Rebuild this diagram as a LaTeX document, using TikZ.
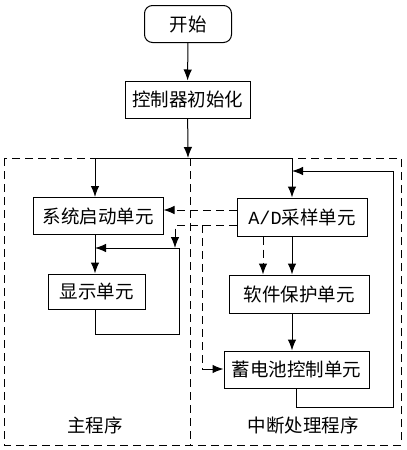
\documentclass[tikz,border=0pt]{standalone}
\usepackage{fontspec}
\setmainfont{Noto Sans CJK SC}
\setmonofont{Liberation Mono}
\usetikzlibrary{arrows.meta}
\begin{document}
\begin{tikzpicture}[x=1pt, y=-1pt, >={Latex[length=11pt,width=8.5pt]}, line width=1pt,
	box/.style={draw, rectangle, inner sep=0pt, font=\fontsize{18.5}{21}\selectfont},
	dash line/.style={dash pattern=on 8pt off 5pt},
	lbl/.style={font=\fontsize{18.5}{21}\selectfont}]
	
	\useasboundingbox (0,0) rectangle (407,450);
	
	% Boxes of the flow
	\node[box, rounded corners=8pt, minimum width=87pt, minimum height=37pt] (start) at (188,24) {开始};
	\node[box, minimum width=125pt, minimum height=37pt] (init) at (187.5,99.5) {控制器初始化};
	\node[box, minimum width=130pt, minimum height=37pt] (sys) at (98,216) {系统启动单元};
	\node[box, minimum width=130pt, minimum height=38pt] (ad) at (302,217) {\texttt{A/D}采样单元};
	\node[box, minimum width=97pt, minimum height=35pt] (disp) at (96.5,291.5) {显示单元};
	\node[box, minimum width=140pt, minimum height=38pt] (swp) at (299,294) {软件保护单元};
	\node[box, minimum width=145pt, minimum height=37pt] (bat) at (296.5,369.5) {蓄电池控制单元};
	
	% Program areas
	\draw[dash line] (4,158) rectangle (401,445);
	\draw[dash line] (190,158) -- (190,445);
	\node[lbl] (mainlbl) at (95,425) {主程序};
	\node[lbl] (isrlbl) at (303,425) {中断处理程序};
	
	% Helper points
	\coordinate (top) at (188,158);
	\coordinate (lx) at (95,0);
	\coordinate (rx) at (292,0);
	\coordinate (dx) at (263,0);
	\coordinate (ret) at (179,248);
	
	% Main flow
	\draw[->] (start) -- (init);
	\draw[->] (init) -- (top);
	\draw (lx |- top) -- (rx |- top);
	\draw[->] (lx |- top) -- (lx |- sys.north);
	\draw[->] (rx |- top) -- (rx |- ad.north);
	\draw[->] (lx |- sys.south) -- (lx |- disp.north);
	\draw[->] (lx |- disp.south) |- (179,334) -- (ret) -- (lx |- ret);
	
	% Interrupt flow
	\draw[->] (rx |- ad.south) -- (rx |- swp.north);
	\draw[->] (rx |- swp.south) -- (rx |- bat.north);
	\draw[->] (bat.south) |- (393,407) |- (rx |- 0,171);
	
	% Dashed signals from A/D
	\draw[dash line, ->] (ad.west |- 0,210) -- (sys.east |- 0,210);
	\draw[dash line, ->] (ad.west |- 0,225) -- (175,225) -- (175,248);
	\draw[dash line] (202,225) -- (202,369);
	\draw[->] (202,369) -- (bat.west |- 0,369);
	\draw[dash line, ->] (dx |- ad.south) -- (dx |- swp.north);
	
\end{tikzpicture}
\end{document}
